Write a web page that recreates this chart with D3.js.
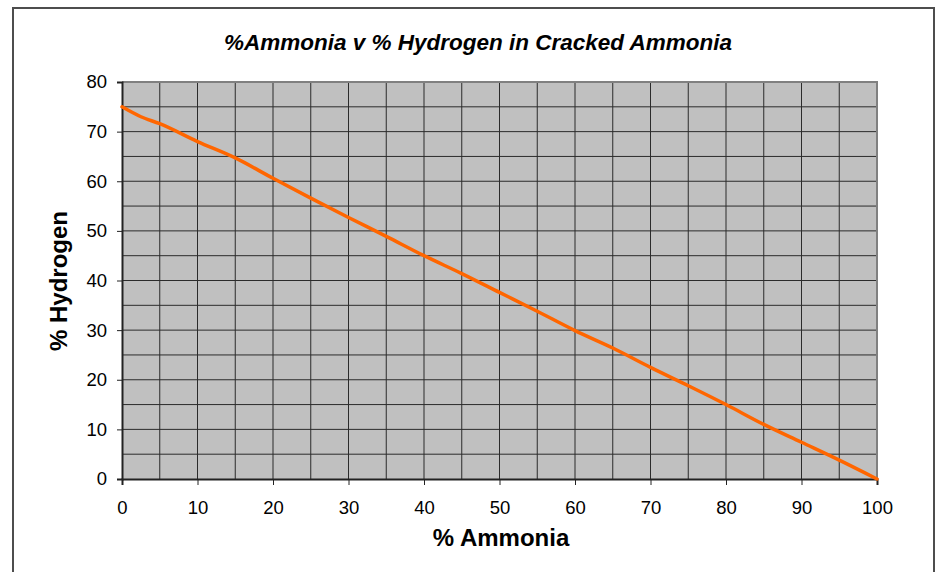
<!DOCTYPE html>
<html>
<head>
<meta charset="utf-8">
<script src="https://cdn.jsdelivr.net/npm/d3@7"></script>
<style>
  body { margin: 0; background: #fff; }
  svg { display: block; font-family: "Liberation Sans", Arial, sans-serif; }
</style>
</head>
<body>
<script>
// data
const ammonia = [0, 2.5, 5, 10, 15, 20, 25, 30, 35, 40, 45, 50, 55, 60, 65, 70, 75, 80, 85, 90, 95, 100];
const hydrogen = [75, 73, 71.6, 68, 64.7, 60.6, 56.6, 52.7, 48.9, 45, 41.4, 37.6, 33.8, 29.9, 26.4, 22.5, 18.8, 15, 11, 7.4, 3.8, 0];
const xTicks = [0, 10, 20, 30, 40, 50, 60, 70, 80, 90, 100];
const yTicks = [0, 10, 20, 30, 40, 50, 60, 70, 80];
const gridSteps = d3.range(0, 101, 5);

const width = 936, height = 572;
const margin = {left: 122, right: 59, top: 82, bottom: 93};

const svg = d3.select("body").append("svg")
  .attr("width", width)
  .attr("height", height);

// outer chart frame (bottom is cut off in the picture)
svg.append("rect")
  .attr("x", 13).attr("y", 8)
  .attr("width", 921).attr("height", 600)
  .attr("fill", "#fff")
  .attr("stroke", "#4d4d4d")
  .attr("stroke-width", 2);

const x = d3.scaleLinear().domain([0, 100]).range([margin.left, width - margin.right]);
const y = d3.scaleLinear().domain([0, 80]).range([height - margin.bottom, margin.top]);

// plot area
svg.append("rect")
  .attr("x", x(0)).attr("y", y(80))
  .attr("width", x(100) - x(0)).attr("height", y(0) - y(80))
  .attr("fill", "#c0c0c0");

// grid
svg.append("g").selectAll("line")
  .data(gridSteps.filter(d => d > 0 && d < 100))
  .join("line")
  .attr("x1", d => x(d)).attr("x2", d => x(d))
  .attr("y1", y(80)).attr("y2", y(0))
  .attr("stroke", "#2b2b2b").attr("stroke-width", 1);

svg.append("g").selectAll("line")
  .data(d3.range(5, 80, 5))
  .join("line")
  .attr("x1", x(0)).attr("x2", x(100))
  .attr("y1", d => y(d)).attr("y2", d => y(d))
  .attr("stroke", "#2b2b2b").attr("stroke-width", 1);

// plot border top/right
svg.append("path")
  .attr("d", `M${x(0)},${y(80)}H${x(100)}V${y(0)}`)
  .attr("fill", "none")
  .attr("stroke", "#808080")
  .attr("stroke-width", 2);

// axes
const xAxis = d3.axisBottom(x).tickValues(xTicks).tickSize(6).tickPadding(16);
const yAxis = d3.axisLeft(y).tickValues(yTicks).tickSize(5).tickPadding(10);

const gx = svg.append("g")
  .attr("transform", `translate(0,${y(0)})`)
  .call(xAxis);
const gy = svg.append("g")
  .attr("transform", `translate(${x(0)},0)`)
  .call(yAxis);

[gx, gy].forEach(g => {
  g.attr("font-size", 18.5).attr("font-family", "'Liberation Sans', Arial, sans-serif");
  g.select(".domain").attr("stroke", "#222").attr("stroke-width", 2);
  g.selectAll(".tick line").attr("stroke", "#222");
  g.selectAll(".tick text").attr("fill", "#000");
});

// series line
const line = d3.line()
  .x((d, i) => x(ammonia[i]))
  .y(d => y(d))
  .curve(d3.curveMonotoneX);

svg.append("path")
  .datum(hydrogen)
  .attr("d", line)
  .attr("fill", "none")
  .attr("stroke", "#ff6600")
  .attr("stroke-width", 3.5)
  .attr("stroke-linecap", "round");

// title and axis labels
svg.append("text")
  .attr("x", 478).attr("y", 50)
  .attr("text-anchor", "middle")
  .style("font-size", "22.5px")
  .style("font-weight", "bold")
  .style("font-style", "italic")
  .text("%Ammonia v % Hydrogen in Cracked Ammonia");

svg.append("text")
  .attr("x", 501).attr("y", 546)
  .attr("text-anchor", "middle")
  .style("font-size", "24px")
  .style("font-weight", "bold")
  .text("% Ammonia");

svg.append("text")
  .attr("transform", `translate(67,281) rotate(-90)`)
  .attr("text-anchor", "middle")
  .style("font-size", "24px")
  .style("font-weight", "bold")
  .text("% Hydrogen");
</script>
</body>
</html>
